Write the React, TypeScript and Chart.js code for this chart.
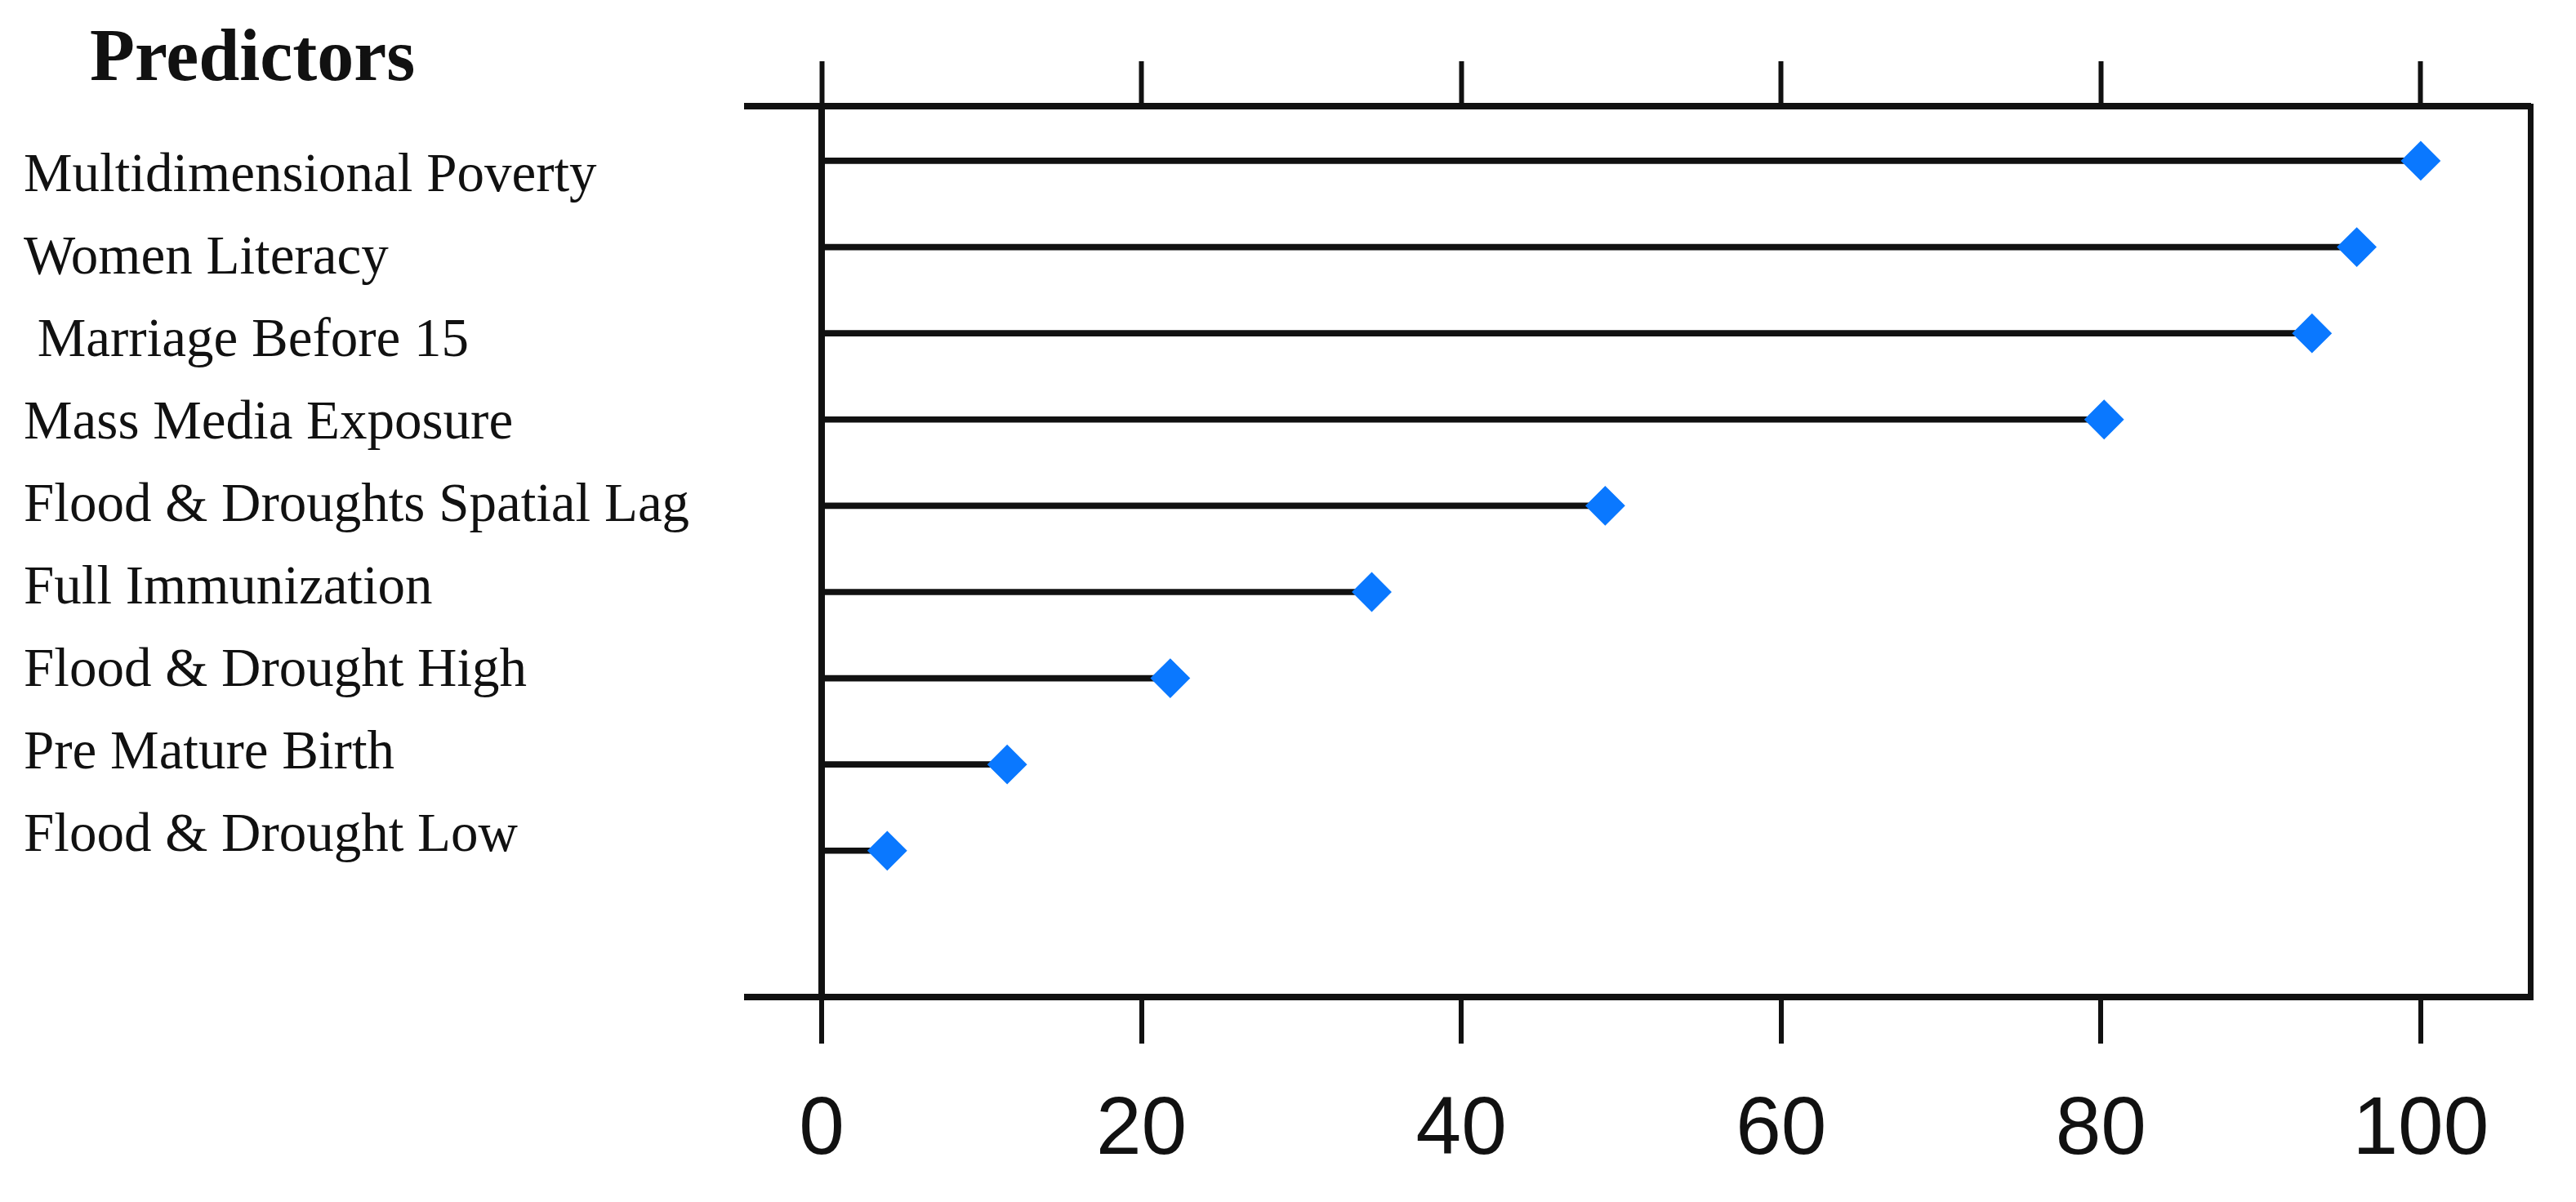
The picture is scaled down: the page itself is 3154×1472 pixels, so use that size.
import React, { useEffect, useRef } from "react";
import { Chart, registerables } from "chart.js";

Chart.register(...registerables);

const TITLE = "Predictors";
const PREDICTORS = [
  "Multidimensional Poverty",
  "Women Literacy",
  " Marriage Before 15",
  "Mass Media Exposure",
  "Flood & Droughts Spatial Lag",
  "Full Immunization",
  "Flood & Drought High",
  "Pre Mature Birth",
  "Flood & Drought Low",
];
const IMPORTANCE = [100, 96, 93.2, 80.2, 49, 34.4, 21.8, 11.6, 4.1];
const X_TICKS = [0, 20, 40, 60, 80, 100];
const X_RANGE = [-4.65, 106.85];
const ROW_RANGE = [-0.634, 9.697];
const LABEL_RANGE = [-0.85, 9.94];

const INK = "#111111";
const BLUE = "#0A78FF";

const titlePlugin = {
  id: "predictorsTitle",
  afterDraw(chart: any) {
    const { ctx } = chart;
    ctx.save();
    ctx.font = 'bold 90px "Liberation Serif", "Times New Roman", serif';
    ctx.fillStyle = INK;
    ctx.textBaseline = "alphabetic";
    ctx.textAlign = "left";
    ctx.fillText(TITLE, 110, 98);
    ctx.restore();
  },
};

export default function App() {
  const canvasRef = useRef<HTMLCanvasElement | null>(null);

  useEffect(() => {
    const canvas = canvasRef.current;
    if (!canvas) return;
    const rows = IMPORTANCE.map((v, i) => ({ x: v, y: i }));
    const xTicks = (s: any) => {
      s.ticks = X_TICKS.map((v) => ({ value: v }));
    };
    const chart = new Chart(canvas, {
      type: "bar",
      data: {
        datasets: [
          {
            type: "scatter",
            data: rows,
            xAxisID: "x",
            yAxisID: "y",
            pointStyle: "rectRot",
            pointRadius: 23,
            pointHoverRadius: 23,
            backgroundColor: BLUE,
            borderColor: BLUE,
            borderWidth: 2,
            order: 0,
          } as any,
          {
            type: "bar",
            data: rows,
            xAxisID: "x",
            yAxisID: "y",
            backgroundColor: INK,
            borderWidth: 0,
            barThickness: 7,
            order: 1,
          } as any,
        ],
      },
      options: {
        indexAxis: "y",
        animation: false,
        responsive: true,
        maintainAspectRatio: false,
        layout: { padding: { left: 29, right: 56, top: 75, bottom: 27 } },
        plugins: {
          legend: { display: false },
          tooltip: { enabled: false },
          title: { display: false },
        },
        scales: {
          x: {
            type: "linear",
            position: "bottom",
            offset: false,
            min: X_RANGE[0],
            max: X_RANGE[1],
            afterBuildTicks: xTicks,
            afterFit: (s: any) => {
              s.height = 224;
            },
            grid: {
              display: true,
              offset: false,
              drawOnChartArea: true,
              color: (c: any) => (c.tick && c.tick.value === 0 ? INK : "rgba(0,0,0,0)"),
              lineWidth: (c: any) => (c.tick && c.tick.value === 0 ? 8 : 0),
              tickColor: INK,
              tickWidth: 6,
              tickLength: 57,
            },
            border: { display: true, color: INK, width: 8 },
            ticks: {
              color: INK,
              font: { family: '"Liberation Sans", Arial, sans-serif', size: 100 },
              padding: 47,
              maxRotation: 0,
              autoSkip: false,
            },
          },
          x2: {
            type: "linear",
            position: "top",
            offset: false,
            min: X_RANGE[0],
            max: X_RANGE[1],
            afterBuildTicks: xTicks,
            grid: {
              display: true,
              offset: false,
              drawOnChartArea: false,
              color: INK,
              tickColor: INK,
              tickWidth: 6,
              tickLength: 55,
            },
            border: { display: true, color: INK, width: 8 },
            ticks: { display: false },
          },
          y: {
            type: "linear",
            display: false,
            offset: false,
            grid: { offset: false },
            reverse: true,
            min: ROW_RANGE[0],
            max: ROW_RANGE[1],
          },
          yl: {
            type: "linear",
            position: "left",
            offset: false,
            reverse: true,
            min: LABEL_RANGE[0],
            max: LABEL_RANGE[1],
            afterBuildTicks: (s: any) => {
              s.ticks = PREDICTORS.map((_, i) => ({ value: i }));
            },
            afterFit: (s: any) => {
              s.width = 886;
            },
            grid: { display: false, drawTicks: false, offset: false },
            border: { display: false },
            ticks: {
              autoSkip: false,
              crossAlign: "far",
              padding: 0,
              color: INK,
              font: { family: '"Liberation Serif", "Times New Roman", serif', size: 67 },
              callback: (v: any) => PREDICTORS[v as number] ?? "",
            },
          },
          yr: {
            type: "linear",
            position: "right",
            offset: false,
            min: 0,
            max: 1,
            grid: { display: true, drawOnChartArea: false, drawTicks: false, offset: false },
            border: { display: true, color: INK, width: 7 },
            ticks: { display: false },
          },
        },
      } as any,
      plugins: [titlePlugin],
    });
    return () => chart.destroy();
  }, []);

  return (
    <div
      style={{
        position: "fixed",
        left: 0,
        top: 0,
        width: 3154,
        height: 1472,
        background: "#ffffff",
      }}
    >
      <canvas ref={canvasRef} />
    </div>
  );
}
